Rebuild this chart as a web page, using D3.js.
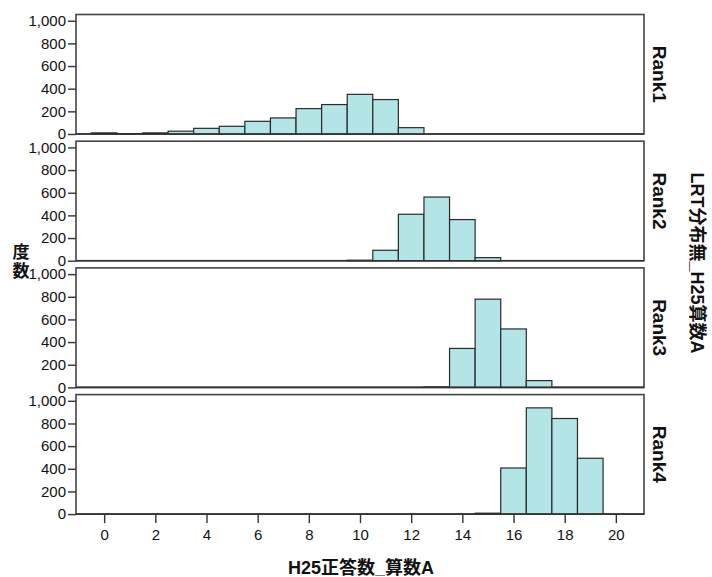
<!DOCTYPE html>
<html>
<head>
<meta charset="utf-8">
<script src="https://cdn.jsdelivr.net/npm/d3@7"></script>
<style>
  body { margin: 0; background: #fff; }
  svg text { fill: #111; }
  .tick-label { font-family: "Liberation Sans", Arial, sans-serif; font-size: 15px; }
  .bold { font-family: "Liberation Sans", Arial, "Noto Sans CJK JP", sans-serif; font-weight: bold; }
</style>
</head>
<body>
<svg id="chart" width="712" height="577"></svg>
<script>
// score bins 0..20, counts per rank panel
const bins = d3.range(0, 21);
const rankNames = ["Rank1", "Rank2", "Rank3", "Rank4"];
const rank1 = [10, 3, 10, 25, 50, 68, 112, 142, 224, 260, 350, 304, 56, 0, 0, 0, 0, 0, 0, 0, 0];
const rank2 = [0, 0, 0, 0, 0, 0, 0, 0, 0, 0, 4, 92, 410, 562, 363, 27, 0, 0, 0, 0, 0];
const rank3 = [0, 0, 0, 0, 0, 0, 0, 0, 0, 0, 0, 0, 0, 4, 344, 779, 516, 60, 0, 0, 0];
const rank4 = [0, 0, 0, 0, 0, 0, 0, 0, 0, 0, 0, 0, 0, 0, 0, 8, 407, 938, 844, 493, 0];
const yTicks = [0, 200, 400, 600, 800, 1000];
const xTicks = [0, 2, 4, 6, 8, 10, 12, 14, 16, 18, 20];
const xTitle = "H25正答数_算数A";
const yTitle = ["度", "数"];
const groupTitle = "LRT分布無_H25算数A";

const series = [rank1, rank2, rank3, rank4];

const svg = d3.select("#chart");
const left = 76, right = 644;
const panelTop = 14.5, panelH = 119.5, panelStep = 126.7;

const x = d3.scaleLinear().domain([-1.1, 21.1]).range([left, right]);
const fmt = d3.format(",");

series.forEach((vals, i) => {
  const top = panelTop + i * panelStep;
  const y = d3.scaleLinear().domain([0, 1055]).range([top + panelH, top]);
  const g = svg.append("g");

  // frame
  g.append("rect")
    .attr("x", left).attr("y", top)
    .attr("width", right - left).attr("height", panelH)
    .attr("fill", "none").attr("stroke", "#444").attr("stroke-width", 1.6);

  // bars
  g.selectAll("rect.bar")
    .data(bins.map((b, j) => ({ b, v: vals[j] })).filter((d) => d.v > 0))
    .join("rect")
    .attr("class", "bar")
    .attr("x", (d) => x(d.b - 0.5))
    .attr("width", x(1) - x(0))
    .attr("y", (d) => y(d.v))
    .attr("height", (d) => y(0) - y(d.v))
    .attr("fill", "#b3e4e6")
    .attr("stroke", "#2a2a2a")
    .attr("stroke-width", 1.2);

  // baseline
  g.append("line")
    .attr("x1", left).attr("x2", right)
    .attr("y1", y(0)).attr("y2", y(0))
    .attr("stroke", "#333").attr("stroke-width", 1.6);

  // y axis
  const yAxis = g.append("g")
    .attr("transform", `translate(${left},0)`)
    .call(d3.axisLeft(y).tickValues(yTicks).tickFormat(fmt).tickSize(8).tickPadding(2));
  yAxis.select(".domain").remove();
  yAxis.selectAll("line").attr("stroke", "#333").attr("stroke-width", 1.4);
  yAxis.selectAll("text").attr("class", "tick-label").attr("fill", "#222");

  // panel label
  g.append("text")
    .attr("class", "bold")
    .attr("transform", `translate(${653},${top + panelH / 2}) rotate(90)`)
    .attr("text-anchor", "middle")
    .attr("font-size", 19)
    .text(rankNames[i]);

  if (i === series.length - 1) {
    const xAxis = g.append("g")
      .attr("transform", `translate(0,${y(0)})`)
      .call(d3.axisBottom(x).tickValues(xTicks).tickSize(9).tickPadding(6));
    xAxis.select(".domain").remove();
    xAxis.selectAll("line").attr("stroke", "#333").attr("stroke-width", 1.4);
    xAxis.selectAll("text").attr("class", "tick-label").attr("fill", "#222");
  }
});

// x title
svg.append("text")
  .attr("class", "bold")
  .attr("x", 361).attr("y", 574)
  .attr("text-anchor", "middle")
  .attr("font-size", 18)
  .text(xTitle);

// y title, stacked characters
svg.selectAll("text.ytitle")
  .data(yTitle)
  .join("text")
  .attr("class", "bold ytitle")
  .attr("x", 21)
  .attr("y", (d, i) => 258 + i * 19)
  .attr("text-anchor", "middle")
  .attr("font-size", 17)
  .text((d) => d);

// group title on the right
svg.append("text")
  .attr("class", "bold")
  .attr("transform", `translate(691,263) rotate(90)`)
  .attr("text-anchor", "middle")
  .attr("font-size", 18)
  .text(groupTitle);
</script>
</body>
</html>
